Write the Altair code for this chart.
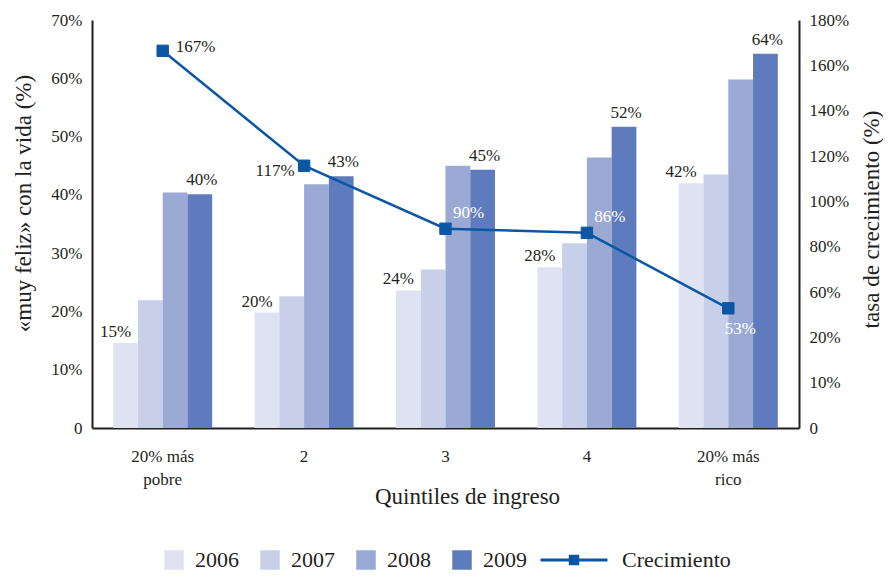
import altair as alt
import pandas as pd

quintiles = ["20% más pobre", "2", "3", "4", "20% más rico"]
years = ["2006", "2007", "2008", "2009"]
v2006 = [14.6, 19.8, 23.6, 27.6, 42.0]
v2007 = [21.9, 22.6, 27.2, 31.7, 43.5]
v2008 = [40.4, 41.8, 45.0, 46.4, 59.8]
v2009 = [40.1, 43.2, 44.3, 51.7, 64.2]
lab2006 = ["15%", "20%", "24%", "28%", "42%"]
lab2009 = ["40%", "43%", "45%", "52%", "64%"]
growth = [166.4, 115.7, 87.9, 86.1, 52.8]
growth_labels = ["167%", "117%", "90%", "86%", "53%"]

FONT = "Liberation Serif"
TXT = "#231f20"
BLUE = "#0b57a4"
colors = ["#dfe3f1", "#c8cfe8", "#9aaad4", "#5e7cbd"]

rows = []
for i, q in enumerate(quintiles):
    for yr, vals, labs in zip(years, [v2006, v2007, v2008, v2009],
                              [lab2006, [""] * 5, [""] * 5, lab2009]):
        rows.append({"quintil": q, "anio": yr, "valor": vals[i], "etiqueta": labs[i]})
bars_df = pd.DataFrame(rows)
growth_df = pd.DataFrame({"quintil": quintiles, "crec": growth,
                          "etiqueta": growth_labels,
                          "leyenda": ["Crecimiento"] * 5})

x_enc = alt.X(
    "quintil:N", sort=quintiles,
    scale=alt.Scale(paddingInner=0.3, paddingOuter=0.15),
    axis=alt.Axis(title="Quintiles de ingreso", labelAngle=0, ticks=False,
                  labelPadding=20, labelFontSize=17, labelLineHeight=23,
                  labelBaseline="top",
                  labelExpr="split(replace(datum.label, 'más ', 'más|'), '|')",
                  titleFontSize=23, titleX=375, titleY=75,
                  titleBaseline="alphabetic", titleAlign="center"))
x_plain = alt.X("quintil:N", sort=quintiles)
xoff = alt.XOffset("anio:N", scale=alt.Scale(domain=years))

y_left = alt.Y(
    "valor:Q", scale=alt.Scale(domain=[0, 70], nice=False),
    axis=alt.Axis(values=list(range(0, 71, 10)),
                  labelExpr="datum.value == 0 ? '0' : datum.value + '%'",
                  ticks=False, grid=False, labelPadding=10,
                  title="«muy feliz» con la vida (%)", titleX=-69, titleY=183,
                  titleAngle=270, titleBaseline="middle", titleAlign="center"))
y_right = alt.Y(
    "crec:Q", scale=alt.Scale(domain=[0, 180], nice=False),
    axis=alt.Axis(orient="right", values=list(range(0, 181, 20)),
                  labelExpr="datum.value == 0 ? '0' : datum.value == 20 ? '10%' : datum.value == 40 ? '20%' : datum.value + '%'",
                  ticks=False, grid=False, labelPadding=10,
                  title="tasa de crecimiento (%)", titleX=72, titleY=199,
                  titleAngle=270, titleBaseline="middle", titleAlign="center"))

bars = alt.Chart(bars_df).mark_bar(opacity=1).encode(
    x=x_enc, xOffset=xoff, y=y_left,
    color=alt.Color("anio:N", scale=alt.Scale(domain=years, range=colors),
                    legend=alt.Legend(title=None, orient="none", direction="horizontal",
                                      legendX=71, legendY=529, symbolType="square",
                                      symbolSize=380, symbolStrokeWidth=0,
                                      symbolOpacity=1, labelFontSize=22,
                                      labelFont=FONT, labelColor=TXT,
                                      labelOffset=10, columnPadding=20)))

def bar_text(year, dx, dy):
    return alt.Chart(bars_df).transform_filter(f"datum.anio == '{year}'").mark_text(
        dx=dx, dy=dy, baseline="middle", align="center", font=FONT, fontSize=17,
        color=TXT).encode(x=x_plain, xOffset=xoff, y=alt.Y("valor:Q"),
                          text="etiqueta:N")

left_layer = alt.layer(bars, bar_text("2006", -10, -11), bar_text("2009", 2, -14))

sym_path = "M-1,0L1,0M-0.11,-0.11L0.11,-0.11L0.11,0.11L-0.11,0.11Z"
leg2 = alt.Legend(title=None, orient="none", legendX=447, legendY=505,
                  symbolType=sym_path, symbolSize=4489, symbolStrokeWidth=3,
                  symbolOpacity=1, labelFontSize=22, labelFont=FONT,
                  labelColor=TXT, labelOffset=13)
leg_scale = alt.Scale(domain=["Crecimiento"], range=[BLUE])

line = alt.Chart(growth_df).mark_line(color=BLUE, strokeWidth=2.5).encode(
    x=x_plain, y=y_right)
points = alt.Chart(growth_df).mark_point(shape="square", filled=True, size=130,
                                         opacity=1, strokeWidth=1).encode(
    x=x_plain, y=alt.Y("crec:Q"),
    fill=alt.Fill("leyenda:N", scale=leg_scale, legend=leg2),
    stroke=alt.Stroke("leyenda:N", scale=leg_scale, legend=leg2))

def g_text(qs, dx, dy, color):
    return alt.Chart(growth_df).transform_filter(
        alt.FieldOneOfPredicate(field="quintil", oneOf=qs)).mark_text(
        dx=dx, dy=dy, baseline="middle", align="center", font=FONT, fontSize=17,
        color=color).encode(x=x_plain, y=alt.Y("crec:Q"), text="etiqueta:N")

right_layer = alt.layer(
    line, points,
    g_text(["20% más pobre"], 33, -4, TXT),
    g_text(["2"], -29, 5, TXT),
    g_text(["3", "4"], 23, -16, "#ffffff"),
    g_text(["20% más rico"], 12, 21, "#ffffff"))

chart = alt.layer(left_layer, right_layer).resolve_scale(
    y="independent"
).properties(
    width=707, height=408,
    autosize=alt.AutoSizeParams(type="none"),
    padding={"left": 84, "top": 12, "right": 84, "bottom": 143},
).configure_axis(
    domainColor=TXT, domainWidth=2, labelFont=FONT, titleFont=FONT,
    labelColor=TXT, titleColor=TXT, titleFontWeight="normal", grid=False,
    labelFontSize=17, titleFontSize=23
).configure_view(strokeWidth=0)

chart.save("out.html", embed_options={"renderer": "svg", "actions": False})
